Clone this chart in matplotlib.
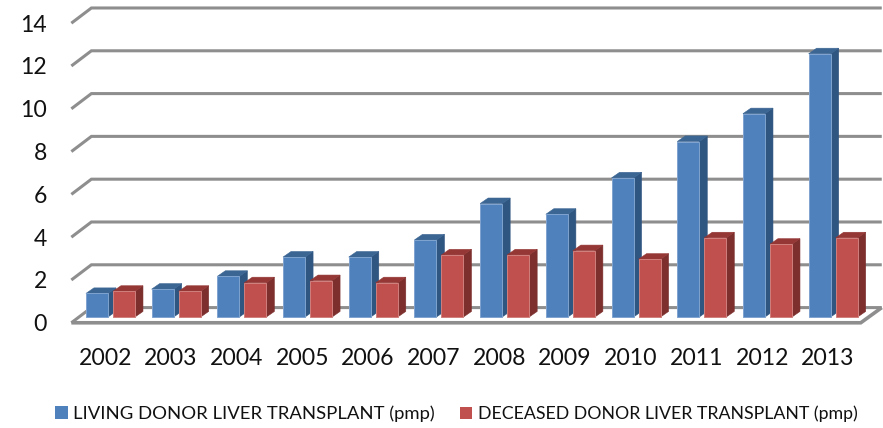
import numpy as np
import matplotlib
matplotlib.use("Agg")
import matplotlib.pyplot as plt
from matplotlib.patches import Patch, Polygon

years = [2002, 2003, 2004, 2005, 2006, 2007, 2008, 2009, 2010, 2011, 2012, 2013]
living = [1.1, 1.3, 1.9, 2.8, 2.8, 3.6, 5.3, 4.8, 6.5, 8.2, 9.5, 12.3]
deceased = [1.2, 1.2, 1.6, 1.7, 1.6, 2.9, 2.9, 3.1, 2.7, 3.7, 3.4, 3.7]
y_ticks = [0, 2, 4, 6, 8, 10, 12, 14]
names = ["LIVING DONOR LIVER TRANSPLANT (pmp)", "DECEASED DONOR LIVER TRANSPLANT (pmp)"]

plt.rcParams['font.family'] = ['Lato', 'DejaVu Sans']
W, H = 883, 428
fig = plt.figure(figsize=(W / 100, H / 100), dpi=100)
back_y, front_y = 0.44, -0.27
L, R, T = 77.6, 866.0, 17.4
B = 317.0 - front_y * 21.4
ax = fig.add_axes([L / W, 1 - B / H, (R - L) / W, (B - T) / H])
for s in ax.spines.values():
    s.set_visible(False)
ax.patch.set_alpha(0)

GRID = "#8E8E8E"
xl_front, xl_back, xr_back, xr_front = -0.595, -0.29, 11.74, 11.42
for v in y_ticks:
    ax.plot([xl_front, xl_back, xr_back], [v + front_y, v + back_y, v + back_y],
            color=GRID, lw=2.2, solid_capstyle="butt", solid_joinstyle="miter", clip_on=False, zorder=1)
ax.plot([xl_front, xr_front, xr_back], [front_y, front_y, back_y],
        color=GRID, lw=2.6, solid_capstyle="butt", solid_joinstyle="miter", clip_on=False, zorder=1)

BW, DX, DY, GAP = 0.335, 0.122, 0.26, 0.038
styles = [
    (living, -GAP - BW, "#4F81BD", "#2F5581", "#3B6593", "#7FA3CF"),
    (deceased, GAP, "#C0504D", "#7C2F2D", "#943735", "#D07F7C"),
]
for k, (vals, off, front, side, top, edge) in enumerate(styles):
    x = np.arange(len(vals)) + off
    for xi, v in zip(x, vals):
        z = 3 + k
        ax.add_patch(Polygon([(xi + BW, 0), (xi + BW + DX, DY), (xi + BW + DX, v + DY), (xi + BW, v)],
                             closed=True, fc=side, ec=side, lw=0.4, clip_on=False, zorder=z))
        ax.add_patch(Polygon([(xi, v), (xi + DX, v + DY), (xi + BW + DX, v + DY), (xi + BW, v)],
                             closed=True, fc=top, ec=top, lw=0.4, clip_on=False, zorder=z))
    ax.bar(x, vals, width=BW, align="edge", color=front, edgecolor=edge, linewidth=0.7, zorder=3 + k, clip_on=False)

ax.set_xticks(np.arange(len(years)) - 0.08)
ax.set_xticklabels([str(y) for y in years], fontsize=16.6, color="#111111")
ax.set_yticks(np.array(y_ticks) + front_y)
ax.set_yticklabels([str(v) for v in y_ticks], fontsize=16.6, color="#111111")
ax.set_xlim(-0.5, 11.5)
ax.set_ylim(front_y, 14)
ax.tick_params(axis="both", length=0)
ax.tick_params(axis="x", pad=18)
ax.tick_params(axis="y", pad=22)

for name, color, x0, size in zip(names, ["#4F81BD", "#C0504D"], [55, 460], [13.3, 12.75]):
    fig.legend([Patch(fc=color, ec="none")], [name], frameon=False, fontsize=size, loc="center left",
               bbox_to_anchor=(x0 / W, 1 - 414 / H), handlelength=0.7, handleheight=0.7,
               handletextpad=0.3, borderpad=0, borderaxespad=0, labelcolor="#111111")
fig.savefig("out.png", dpi=100)
